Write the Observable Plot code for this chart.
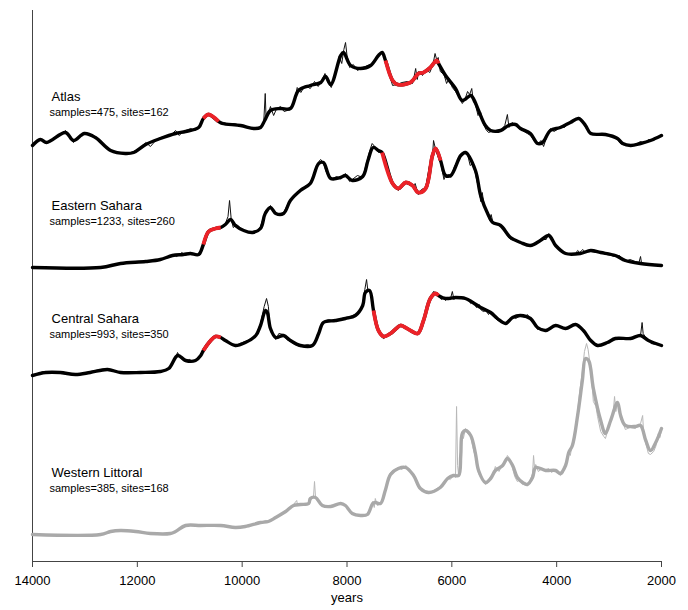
<!DOCTYPE html>
<html><head><meta charset="utf-8">
<script src="https://cdn.jsdelivr.net/npm/d3@7"></script>
<script src="https://cdn.jsdelivr.net/npm/@observablehq/plot@0.6"></script>
<style>body{margin:0;background:#fff;}</style>
</head><body><div id="chart"></div>
<script>
// ---- data (years BP, stacked display value) ----
const xTicks = [14000, 12000, 10000, 8000, 6000, 4000, 2000];
const regionNames = ["Atlas", "Eastern Sahara", "Central Sahara", "Western Littoral"];
const sampleCounts = [475, 1233, 993, 385];
const siteCounts = [162, 260, 350, 168];

const atlasSmooth = [[14000,416],[13850,422],[13730,419],[13370,429],[13220,421],[13010,428],[12800,424],[12510,411],[12230,408],[12070,409],[11840,417],[11560,423],[11270,428],[11080,430],[10830,434],[10740,443],[10640,447],[10450,440],[10380,438],[10030,436],[9780,433],[9650,434],[9570,441],[9460,451],[9270,453],[9080,453],[8925,471],[8700,476],[8500,479],[8410,485],[8310,477],[8120,506],[8066,509],[7930,496],[7740,493],[7550,496],[7400,506],[7330,509],[7265,501],[7130,481],[7036,477],[6790,479],[6635,488],[6540,489],[6410,494],[6290,501],[6254,498],[6120,486],[5930,473],[5800,461],[5640,466],[5590,463],[5490,451],[5360,436],[5260,431],[5070,431],[4920,436],[4785,437],[4690,433],[4500,428],[4365,418],[4270,419],[4120,431],[3930,434],[3740,439],[3580,443],[3450,436],[3350,428],[3070,427],[2840,423],[2740,418],[2590,416],[2400,418],[2210,421],[2000,426]];
const atlasRaw = [[14000,416],[13900,420],[13850,423],[13750,418],[13650,421],[13500,425],[13370,431],[13280,425],[13220,419],[13100,425],[13010,429],[12900,427],[12800,423],[12650,418],[12510,411],[12350,409],[12230,407],[12070,410],[11950,413],[11840,419],[11750,415],[11650,421],[11560,424],[11450,425],[11350,427],[11270,431],[11200,426],[11150,429],[11080,431],[10980,433],[10900,431],[10830,434],[10740,444],[10640,448],[10550,444],[10450,440],[10350,439],[10250,437],[10150,438],[10030,436],[9900,434],[9780,432],[9650,434],[9590,438],[9560,468],[9545,445],[9500,448],[9460,455],[9400,446],[9350,452],[9270,455],[9200,450],[9080,452],[9000,462],[8950,474],[8880,469],[8800,476],[8700,473],[8620,480],[8550,475],[8480,481],[8420,488],[8370,480],[8300,474],[8200,490],[8150,505],[8100,498],[8060,512],[8028,519],[8000,506],[7950,494],[7880,497],[7800,491],[7740,493],[7650,495],[7550,497],[7450,503],[7380,508],[7320,510],[7280,503],[7200,488],[7130,476],[7050,477],[6950,479],[6850,480],[6750,478],[6720,485],[6690,493],[6660,482],[6630,490],[6560,486],[6500,492],[6420,489],[6360,497],[6320,508],[6290,502],[6260,504],[6220,490],[6150,487],[6100,478],[6050,483],[5990,474],[5930,470],[5870,465],[5800,458],[5750,462],[5700,470],[5660,467],[5620,473],[5590,460],[5550,457],[5500,446],[5450,449],[5400,438],[5350,432],[5300,429],[5200,431],[5100,429],[5050,432],[4990,436],[4940,447],[4910,434],[4850,439],[4785,436],[4720,433],[4650,431],[4560,428],[4500,426],[4420,420],[4365,417],[4300,421],[4250,415],[4180,426],[4120,433],[4050,430],[3990,432],[3930,435],[3850,434],[3740,440],[3650,441],[3580,444],[3500,440],[3450,434],[3350,428],[3200,428],[3070,427],[2950,426],[2840,422],[2780,418],[2740,417],[2650,416],[2590,416],[2500,417],[2400,420],[2320,418],[2250,422],[2150,421],[2080,424],[2000,427]];
const atlasRed = [[10740,10450],[7265,6254]];

const easternSmooth = [[14000,294],[12700,294],[12320,298],[11840,300],[11560,302],[11330,306],[11120,307],[10990,308],[10830,307],[10740,317],[10640,330],[10510,333],[10410,334],[10320,337],[10220,342],[10130,336],[9970,331],[9800,329],[9650,333],[9560,348],[9460,354],[9360,348],[9210,348],[9080,361],[8890,371],[8700,378],[8540,398],[8450,399],[8310,383],[8120,384],[8030,386],[7900,381],[7700,385],[7600,401],[7500,414],[7400,411],[7330,409],[7130,378],[7020,373],[6880,379],[6750,376],[6640,369],[6500,373],[6370,406],[6310,413],[6215,401],[6120,386],[6020,386],[5830,406],[5740,409],[5550,391],[5450,366],[5300,346],[5220,339],[5070,336],[4880,324],[4690,319],[4500,316],[4310,321],[4150,326],[4020,316],[3830,308],[3550,308],[3350,311],[3160,309],[2880,306],[2690,301],[2400,298],[2000,296]];
const easternRaw = [[14000,294],[12700,294],[12320,298],[11840,300],[11560,302],[11400,304],[11330,307],[11250,305],[11150,309],[11080,306],[10990,309],[10900,307],[10830,306],[10740,318],[10640,331],[10510,333],[10410,334],[10320,338],[10270,345],[10241,361],[10210,343],[10170,334],[10100,337],[9970,330],[9800,330],[9700,331],[9650,335],[9560,350],[9460,356],[9400,350],[9300,347],[9210,349],[9150,355],[9080,362],[9000,366],[8890,372],[8800,375],[8700,379],[8600,390],[8540,400],[8500,402],[8450,398],[8400,390],[8310,382],[8200,385],[8120,383],[8030,388],[7950,380],[7900,382],[7800,386],[7700,384],[7620,400],[7560,412],[7520,418],[7470,415],[7400,409],[7330,410],[7250,395],[7130,376],[7050,373],[7020,371],[6950,377],[6880,380],[6800,377],[6750,375],[6700,378],[6640,367],[6580,372],[6500,374],[6430,395],[6370,405],[6349,421],[6310,412],[6260,405],[6215,399],[6150,382],[6120,386],[6050,387],[6020,384],[5950,395],[5880,402],[5830,407],[5760,410],[5700,407],[5650,396],[5600,398],[5550,388],[5520,380],[5480,372],[5450,360],[5420,369],[5380,355],[5330,350],[5280,341],[5250,347],[5220,340],[5150,337],[5070,336],[5000,333],[4940,326],[4880,322],[4800,321],[4690,319],[4600,318],[4500,316],[4400,318],[4310,322],[4200,322],[4150,328],[4100,322],[4020,316],[3900,311],[3830,307],[3750,308],[3650,307],[3600,311],[3560,309],[3500,312],[3450,309],[3350,310],[3250,309],[3160,309],[3050,307],[2960,306],[2880,305],[2800,306],[2700,300],[2600,302],[2500,300],[2430,299],[2400,305],[2380,298],[2300,298],[2150,297],[2000,296]];
const easternRed = [[10740,10410],[7330,6215]];

const centralSmooth = [[14000,186],[13750,189],[13470,189],[13180,187],[12900,189],[12570,192],[12320,189],[11940,189],[11560,190],[11400,193],[11230,206],[11080,201],[10890,201],[10790,206],[10740,211],[10600,221],[10510,225],[10410,224],[10320,221],[10130,216],[9940,219],[9740,226],[9650,236],[9555,251],[9520,249],[9460,233],[9360,224],[9210,226],[9080,221],[8890,216],[8660,216],[8540,228],[8450,239],[8220,241],[8030,243],[7840,246],[7700,256],[7650,269],[7570,271],[7494,251],[7400,231],[7300,225],[7170,228],[6980,236],[6920,235],[6790,231],[6650,228],[6540,241],[6410,263],[6310,268],[6254,266],[6120,263],[5930,264],[5740,263],[5600,259],[5450,254],[5260,249],[5130,243],[4975,238],[4840,244],[4690,246],[4500,243],[4365,234],[4210,231],[4020,236],[3830,233],[3640,237],[3490,231],[3350,221],[3220,216],[3030,219],[2880,223],[2590,223],[2400,226],[2250,221],[2000,216]];
const centralRaw = [[14000,186],[13800,190],[13650,189],[13470,188],[13300,187],[13180,186],[13000,188],[12900,190],[12700,192],[12570,193],[12450,190],[12320,189],[12000,189],[11800,190],[11560,190],[11450,192],[11400,194],[11300,200],[11233,209],[11180,204],[11130,201],[11080,200],[11000,202],[10950,200],[10890,201],[10790,207],[10740,212],[10600,222],[10510,226],[10410,223],[10320,220],[10200,217],[10130,215],[10050,218],[9940,220],[9850,222],[9740,226],[9650,238],[9580,255],[9535,263],[9500,255],[9460,230],[9400,226],[9360,222],[9300,228],[9210,227],[9150,222],[9080,220],[8990,217],[8890,215],[8750,217],[8660,215],[8580,224],[8540,230],[8480,236],[8450,240],[8350,242],[8220,240],[8100,243],[8030,244],[7940,245],[7840,247],[7760,250],[7700,258],[7660,272],[7627,282],[7600,270],[7570,272],[7530,262],[7494,250],[7400,230],[7330,224],[7300,223],[7250,225],[7170,229],[7100,233],[6980,236],[6920,236],[6850,233],[6790,230],[6700,229],[6650,227],[6600,232],[6540,242],[6480,255],[6410,264],[6350,270],[6310,269],[6254,265],[6200,262],[6150,264],[6120,261],[6080,264],[6030,262],[5990,270],[5960,262],[5930,265],[5850,263],[5800,264],[5740,262],[5680,262],[5640,258],[5600,260],[5530,254],[5480,257],[5450,252],[5400,250],[5350,251],[5300,247],[5260,250],[5200,245],[5130,241],[5060,240],[4975,237],[4900,242],[4840,245],[4780,243],[4690,246],[4600,244],[4560,247],[4500,243],[4430,240],[4365,232],[4300,233],[4210,231],[4120,233],[4020,236],[3950,235],[3830,233],[3740,234],[3640,238],[3560,235],[3490,230],[3420,226],[3350,220],[3280,218],[3220,215],[3150,217],[3030,219],[2950,222],[2880,224],[2760,222],[2690,223],[2590,222],[2450,225],[2400,226],[2370,239],[2350,228],[2300,224],[2250,222],[2200,218],[2100,217],[2000,216]];
const centralRed = [[10740,10410],[7494,6254]];

const westernSmooth = [[14000,27],[12700,27],[12510,30],[12320,31],[12030,30],[11750,28],[11370,28],[11270,30],[11080,36],[10790,36],[10410,36],[10130,34],[9940,35],[9650,39],[9500,40],[9360,44],[9170,50],[9020,56],[8890,57],[8730,58],[8700,63],[8600,64],[8470,56],[8310,55],[8120,58],[8030,56],[7900,48],[7740,46],[7610,47],[7510,58],[7460,59],[7360,58],[7270,71],[7170,87],[7020,93],[6880,94],[6730,86],[6600,73],[6440,69],[6220,74],[6080,83],[5970,86],[5870,86],[5830,106],[5800,128],[5740,131],[5640,126],[5550,108],[5490,91],[5360,79],[5260,83],[5170,91],[5030,96],[4940,103],[4840,96],[4750,84],[4650,79],[4560,77],[4460,84],[4400,94],[4210,91],[4020,91],[3930,88],[3830,96],[3770,109],[3700,116],[3600,146],[3510,181],[3450,203],[3390,201],[3300,173],[3160,141],[3070,128],[2970,141],[2840,159],[2780,146],[2690,136],[2500,135],[2400,136],[2300,121],[2210,111],[2110,119],[2000,133]];
const westernRaw = [[14000,27],[13000,27],[12700,27],[12510,30],[12320,31],[12030,30],[11750,28],[11370,28],[11270,30],[11080,36],[10790,36],[10410,36],[10130,34],[9940,35],[9650,39],[9550,41],[9500,40],[9360,44],[9250,47],[9170,51],[9080,53],[9020,57],[8960,61],[8940,56],[8890,57],[8730,58],[8680,62],[8640,64],[8620,80],[8600,64],[8560,60],[8470,55],[8310,56],[8120,58],[8030,56],[7900,47],[7740,45],[7610,46],[7560,50],[7510,60],[7480,54],[7460,63],[7420,56],[7360,58],[7300,65],[7270,72],[7200,85],[7170,89],[7100,92],[7020,94],[6950,92],[6880,96],[6800,92],[6730,85],[6600,72],[6440,68],[6220,75],[6150,79],[6080,84],[6030,82],[5970,86],[5930,84],[5910,155],[5890,96],[5870,86],[5830,110],[5800,130],[5780,123],[5740,133],[5700,128],[5640,125],[5600,115],[5550,104],[5490,88],[5420,82],[5360,77],[5300,79],[5260,85],[5200,89],[5170,95],[5100,90],[5030,97],[4980,100],[4940,106],[4880,102],[4840,93],[4800,85],[4750,80],[4700,82],[4650,77],[4600,79],[4560,76],[4500,82],[4460,88],[4441,106],[4420,92],[4400,97],[4350,90],[4300,92],[4210,92],[4150,93],[4100,89],[4020,92],[3970,88],[3930,86],[3880,88],[3830,97],[3800,104],[3770,110],[3740,106],[3700,118],[3650,130],[3600,150],[3560,170],[3510,190],[3470,210],[3430,218],[3400,212],[3370,200],[3330,180],[3300,160],[3250,155],[3220,145],[3160,130],[3100,125],[3070,123],[3030,130],[2970,143],[2920,150],[2896,165],[2870,150],[2840,160],[2800,150],[2780,142],[2740,140],[2690,132],[2600,134],[2500,133],[2430,136],[2400,138],[2360,146],[2340,128],[2300,118],[2250,108],[2210,107],[2150,110],[2110,115],[2060,128],[2030,124],[2000,132]];
const westernRed = [];

// ---- build tables ----
const smoothSets = [atlasSmooth, easternSmooth, centralSmooth, westernSmooth];
const rawSets = [atlasRaw, easternRaw, centralRaw, westernRaw];
const redSets = [atlasRed, easternRed, centralRed, westernRed];

const toRows = (arr, region, seg) => arr.map(([year, v]) => ({year, v, region, seg}));
const smoothRows = [], rawRows = [], redRows = [];
regionNames.forEach((r, i) => {
  smoothRows.push(...toRows(smoothSets[i], r, r));
  rawRows.push(...toRows(rawSets[i], r, r));
  redSets[i].forEach(([a, b], k) => {
    redRows.push(...toRows(smoothSets[i].filter(([y]) => y <= a && y >= b), r, r + k));
  });
});
const isGray = d => d.region === "Western Littoral";

// label layout (display values for label anchors)
const labelY = {"Atlas": 465, "Eastern Sahara": 356, "Central Sahara": 243, "Western Littoral": 89};
const labels = regionNames.map((r, i) => ({region: r, name: r, info: `samples=${sampleCounts[i]}, sites=${siteCounts[i]}`}));

const chart = Plot.plot({
  width: 688,
  height: 610,
  marginLeft: 32,
  marginRight: 27,
  marginTop: 10,
  marginBottom: 49,
  style: {fontFamily: "'Liberation Sans', Arial, sans-serif", background: "#fff", color: "#000"},
  x: {domain: [14000, 2000]},
  y: {domain: [0, 551], axis: null},
  marks: [
    Plot.ruleX([14000], {y1: 0, y2: 551, stroke: "#444", strokeWidth: 1}),
    Plot.ruleY([0], {stroke: "#444", strokeWidth: 1}),
    Plot.axisX({ticks: xTicks, tickFormat: d3.format("d"), tickSize: 6, tickPadding: 8, fontSize: 13, label: null, stroke: "#444", color: "#000"}),
    Plot.text(["years"], {frameAnchor: "bottom", dy: 40, fontSize: 13, fill: "#000"}),
    Plot.line(rawRows, {x: "year", y: "v", z: "seg", stroke: d => isGray(d) ? "#b8b8b8" : "#111", strokeWidth: 1, curve: "linear"}),
    Plot.line(smoothRows, {x: "year", y: "v", z: "seg", stroke: d => isGray(d) ? "#a9a9a9" : "#000", strokeWidth: 3.4, curve: "catmull-rom", strokeLinejoin: "round", strokeLinecap: "round"}),
    Plot.line(redRows, {x: "year", y: "v", z: "seg", stroke: "#ec2228", strokeWidth: 3.8, curve: "catmull-rom", strokeLinecap: "butt"}),
    Plot.text(labels, {x: 13637, y: d => labelY[d.region], text: "name", textAnchor: "start", fontSize: 13, fill: "#000"}),
    Plot.text(labels, {x: 13676, y: d => labelY[d.region] - 16, text: "info", textAnchor: "start", fontSize: 11, fill: "#000"})
  ]
});
document.getElementById("chart").appendChild(chart);
</script>
</body></html>
